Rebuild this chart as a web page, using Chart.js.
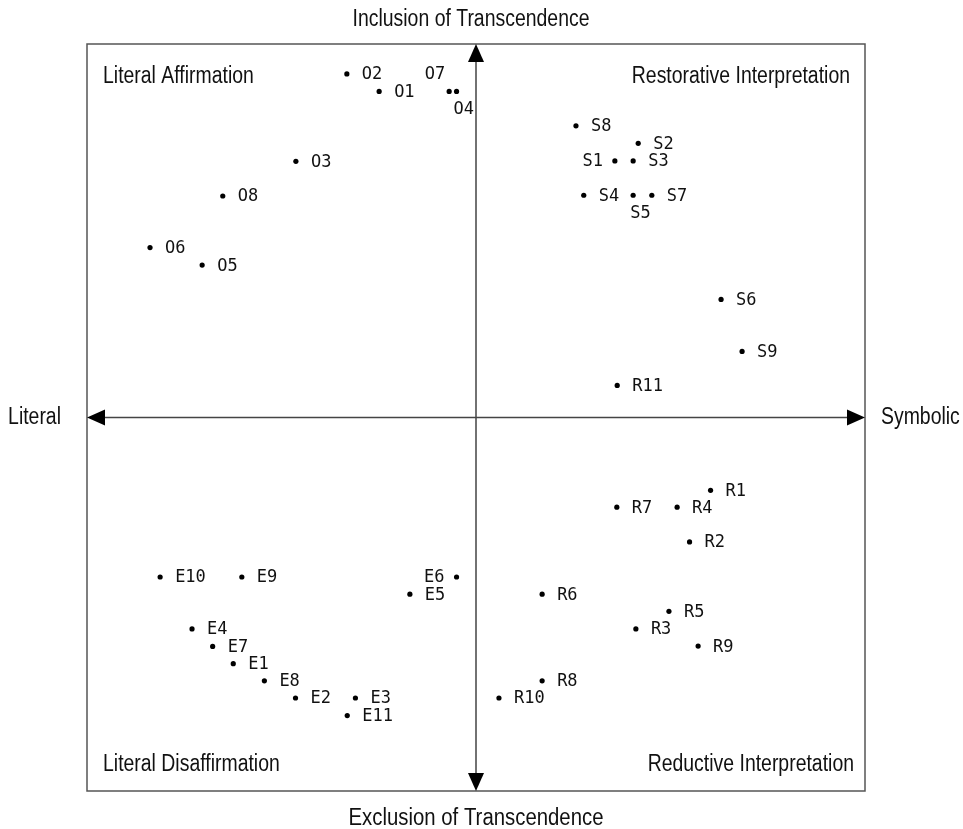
<!DOCTYPE html>
<html>
<head>
<meta charset="utf-8">
<script src="https://cdn.jsdelivr.net/npm/chart.js@4.4.0/dist/chart.umd.min.js"></script>
<style>
  html, body { margin: 0; padding: 0; background: #fff; }
  #wrap { width: 963px; height: 829px; }
</style>
</head>
<body>
<div id="wrap"><canvas id="chart" width="963" height="829"></canvas></div>
<script>
// Positions, on a -100..100 scale (0 = where the axes cross)
const names = [
    "O1", "O2", "O3", "O4", "O5", "O6", "O7", "O8",
    "S1", "S2", "S3", "S4", "S5", "S6", "S7", "S8", "S9",
    "R1", "R2", "R3", "R4", "R5", "R6", "R7", "R8", "R9", "R10", "R11",
    "E1", "E2", "E3", "E4", "E5", "E6", "E7", "E8", "E9", "E10", "E11"
];
const literalSymbolic = [
    -24.9, -33.2, -46.3, -5.0, -70.4, -83.8, -6.9, -65.1,
    35.7, 41.7, 40.4, 27.7, 40.4, 63.0, 45.2, 25.7, 68.4,
    60.3, 54.9, 41.1, 51.7, 49.6, 17.0, 36.2, 17.0, 57.1, 5.9, 36.3,
    -62.4, -46.4, -31.0, -73.0, -17.0, -5.0, -67.7, -54.4, -60.2, -81.2, -33.1
];
const transcendence = [
    87.3, 92.0, 68.6, 87.3, 40.8, 45.5, 87.3, 59.3,
    68.7, 73.4, 68.7, 59.5, 59.5, 31.6, 59.5, 78.1, 17.7,
    -19.5, -33.3, -56.6, -24.0, -51.9, -47.3, -24.0, -70.5, -61.2, -75.1, 8.6,
    -65.9, -75.1, -75.1, -56.6, -47.3, -42.7, -61.3, -70.5, -42.7, -42.7, -79.8
];
// where each name sits next to its dot (default: right)
const labelSide = { O7: "topleft", O4: "below", S5: "below", S1: "left", E6: "left" };

const quadrantNames = ["Literal Affirmation", "Restorative Interpretation", "Literal Disaffirmation", "Reductive Interpretation"];
const axisNames = { top: "Inclusion of Transcendence", bottom: "Exclusion of Transcendence", left: "Literal", right: "Symbolic" };

const pts = names.map((n, i) => ({ x: literalSymbolic[i], y: transcendence[i], name: n }));

const SANS = "'Liberation Sans', Arial, sans-serif";
const MONO = "'DejaVu Sans Mono', monospace";

// no narrow face installed, so squeeze the regular one
function narrowText(ctx, txt, x, y, squeeze) {
    const w = ctx.measureText(txt).width;
    ctx.fillText(txt, x, y, w * (squeeze || 0.845));
}

function arrowHead(ctx, x, y, dir) {
    // tip at (x, y)
    const len = 18, half = 8;
    ctx.beginPath();
    if (dir === "up") { ctx.moveTo(x, y); ctx.lineTo(x - half, y + len); ctx.lineTo(x + half, y + len); }
    if (dir === "down") { ctx.moveTo(x, y); ctx.lineTo(x - half, y - len); ctx.lineTo(x + half, y - len); }
    if (dir === "left") { ctx.moveTo(x, y); ctx.lineTo(x + len, y - half); ctx.lineTo(x + len, y + half); }
    if (dir === "right") { ctx.moveTo(x, y); ctx.lineTo(x - len, y - half); ctx.lineTo(x - len, y + half); }
    ctx.closePath();
    ctx.fill();
}

const framePlugin = {
    id: "frame",
    beforeDatasetsDraw(chart) {
        const { ctx, chartArea: a, scales } = chart;
        const cx = scales.x.getPixelForValue(0);
        const cy = scales.y.getPixelForValue(0);
        ctx.save();
        // box
        ctx.strokeStyle = "#555";
        ctx.lineWidth = 1.5;
        ctx.strokeRect(a.left, a.top, a.right - a.left, a.bottom - a.top);
        // axes
        ctx.strokeStyle = "#444";
        ctx.beginPath();
        ctx.moveTo(cx, a.top + 10); ctx.lineTo(cx, a.bottom - 10);
        ctx.moveTo(a.left + 10, cy); ctx.lineTo(a.right - 10, cy);
        ctx.stroke();
        ctx.fillStyle = "#000";
        arrowHead(ctx, cx, a.top, "up");
        arrowHead(ctx, cx, a.bottom, "down");
        arrowHead(ctx, a.left, cy, "left");
        arrowHead(ctx, a.right, cy, "right");

        // quadrant names
        ctx.font = "23px " + SANS;
        ctx.fillStyle = "#111";
        ctx.textBaseline = "middle";
        ctx.textAlign = "left";
        narrowText(ctx, quadrantNames[0], a.left + 16, a.top + 33);
        narrowText(ctx, quadrantNames[2], a.left + 16, a.bottom - 26);
        ctx.textAlign = "right";
        narrowText(ctx, quadrantNames[1], a.right - 15, a.top + 33);
        narrowText(ctx, quadrantNames[3], a.right - 11, a.bottom - 26);

        // axis names
        ctx.textAlign = "center";
        narrowText(ctx, axisNames.top, cx - 5, a.top - 24);
        narrowText(ctx, axisNames.bottom, cx, a.bottom + 28, 0.885);
        ctx.textAlign = "right";
        narrowText(ctx, axisNames.left, a.left - 26, cy);
        ctx.textAlign = "left";
        narrowText(ctx, axisNames.right, a.right + 16, cy);
        ctx.restore();
    },
    afterDatasetsDraw(chart) {
        const { ctx } = chart;
        const meta = chart.getDatasetMeta(0);
        ctx.save();
        ctx.font = "17px " + MONO;
        ctx.fillStyle = "#111";
        ctx.textBaseline = "middle";
        meta.data.forEach((el, i) => {
            const n = names[i];
            const side = labelSide[n] || "right";
            let x = el.x, y = el.y + 1;
            if (side === "right") { ctx.textAlign = "left"; x += 15; }
            if (side === "left") { ctx.textAlign = "right"; x -= 12; }
            if (side === "below") { ctx.textAlign = "left"; x -= 3; y += 17; }
            if (side === "topleft") { ctx.textAlign = "right"; x -= 4; y -= 18; }
            ctx.fillText(n, x, y);
        });
        ctx.restore();
    }
};

new Chart(document.getElementById("chart"), {
    type: "scatter",
    data: {
        datasets: [{
            data: pts,
            pointRadius: 2.6,
            pointHoverRadius: 2.6,
            backgroundColor: "#000",
            borderWidth: 0
        }]
    },
    options: {
        responsive: false,
        animation: false,
        layout: { padding: { left: 87, right: 98, top: 44, bottom: 38 } },
        plugins: { legend: { display: false }, tooltip: { enabled: false } },
        scales: {
            x: { type: "linear", min: -100, max: 100, display: false },
            y: { type: "linear", min: -100, max: 100, display: false }
        }
    },
    plugins: [framePlugin]
});
</script>
</body>
</html>
